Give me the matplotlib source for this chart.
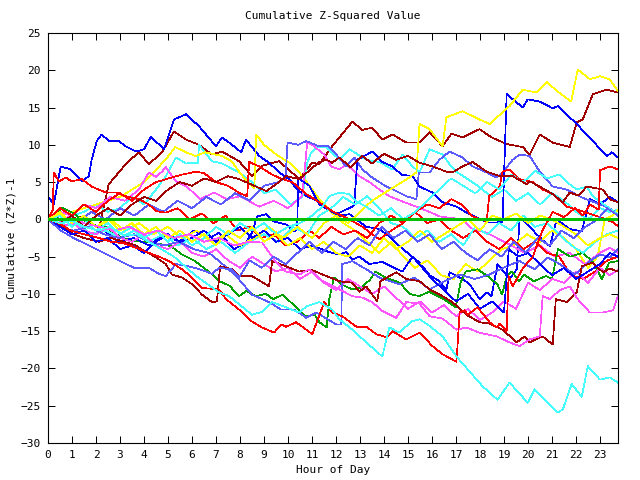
import matplotlib
matplotlib.use('Agg')
import matplotlib.pyplot as plt

# (hour of day, cumulative value), one list per trace
dark_red_top = [(0, 0), (0.53, 0.5), (0.99, -0.3), (1.49, 0.5), (2.12, -1.3), (2.53, 4.7), (3.29, 7.6),
                (3.79, 9), (4.2, 7.4), (4.75, 9), (5.25, 11.8), (5.75, 10.7), (6.29, 10), (6.83, 8.7),
                (7.25, 9.1), (7.96, 7.8), (8.5, 5.8), (8.92, 7.2), (9.63, 7.8), (10.47, 5.4), (11.01, 7.6),
                (11.3, 7.4), (11.84, 9.8), (12.68, 13.1), (13.1, 12), (13.51, 12.3), (13.93, 10.7),
                (14.35, 11.4), (14.93, 10.3), (15.48, 10.3), (15.9, 11.7), (16.44, 9.8), (16.81, 11.5),
                (17.27, 11), (17.98, 12.1), (18.48, 11), (19.11, 10.1), (19.78, 9.7), (20.07, 8.7),
                (20.49, 11.4), (21.03, 10.3), (21.74, 9.7), (22.03, 13), (22.28, 13.4), (22.7, 16.8),
                (23.29, 17.4), (23.75, 17)]

blue_early_high = [(0, 3.1), (0.24, 2), (0.53, 7.1), (0.95, 6.7), (1.41, 5.1), (1.7, 5.8), (1.82, 8),
                   (2.03, 10.5), (2.24, 11.4), (2.53, 10.5), (2.95, 10.5), (3.24, 9.8), (3.66, 9.1),
                   (4.0, 9.4), (4.29, 11.1), (4.83, 9.4), (5.25, 13.4), (5.75, 14.1), (6.29, 12.5),
                   (7.0, 9.8), (7.25, 11), (7.67, 10), (8.05, 9), (8.25, 10.7), (8.8, 8.5), (9.21, 7.6),
                   (9.63, 6.3), (10.05, 5.4), (10.38, 4), (10.76, 3.1), (11.3, 2.4), (11.59, 1.7),
                   (12.01, 0.4), (12.56, 0.7), (13.26, -1), (13.81, -1.3), (14.22, -2.3), (14.64, -3.6),
                   (15.06, -4.7), (15.48, -5.8), (15.9, -7.5), (16.31, -8.3), (16.6, -9.5), (16.73, -7.1),
                   (17.27, -8), (17.57, -8.7), (17.98, -10.7), (18.28, -9.8), (18.48, -10.3), (18.73, -6),
                   (19.23, -8), (19.53, -6.7), (19.65, 0.3), (19.78, 0), (20.36, -2), (20.91, -3.6),
                   (21.2, 0), (21.74, -1.3), (22.24, -1.6), (22.58, 2.7), (23.0, 2), (23.41, 3), (23.75, 2.3)]

blue_late_jump = [(0, 0), (0.53, -1), (1.07, -0.5), (1.7, -2), (2.33, -1.5), (2.95, -3), (3.58, -2.5),
                  (4.2, -3.5), (4.83, -2), (5.46, -3), (6.08, -1.5), (6.71, -2.5), (7.13, -1.8), (7.75, -4),
                  (8.25, -3.1), (8.5, -1.8), (8.71, 0.4), (9.1, 0.7), (9.42, -0.3), (9.92, -0.7),
                  (10.26, -1.6), (10.38, -1.3), (10.43, 5.5), (10.89, 4.5), (11.3, 2), (12.01, 0.7),
                  (12.68, 1.7), (12.76, 2), (12.89, 8), (13.51, 9.1), (13.93, 7.7), (14.35, 7.1),
                  (14.73, 6), (15.19, 5.8), (15.48, 4.4), (16.02, 3.6), (16.44, 2.3), (17.02, 1.7),
                  (17.44, 0.9), (18.28, -0.4), (18.73, -0.4), (18.94, -0.3), (19.11, 16.8), (19.78, 15),
                  (19.99, 16.1), (20.49, 15.8), (21.03, 14.9), (21.24, 15.2), (22.03, 12.8), (22.7, 10.5),
                  (23.29, 8.5), (23.5, 9), (23.75, 8.3)]

yellow_mid = [(0, 0), (1, 1), (2, 2), (3, 3), (4, 5), (4.9, 8), (5.3, 9.7), (5.75, 9), (6.15, 8.5),
              (6.55, 9), (7.25, 8.5), (7.65, 7.8), (8.05, 6), (8.35, 5), (8.6, 4.2), (8.67, 11.4), (9.0, 10),
              (9.51, 8.7), (10.05, 7.6), (10.47, 6.3), (10.9, 4.5), (11.3, 2.7), (11.8, 1), (12.3, -0.5),
              (12.8, -1.5), (13.3, -3), (13.8, -4.5), (14.3, -3), (14.8, -5), (15.3, -6.5), (15.8, -5.5),
              (16.4, -7.5), (16.9, -8), (17.4, -6), (17.9, -7), (18.4, -5.5), (18.9, -4), (19.4, -3.5),
              (19.95, -2), (20.5, -3), (21.0, -1.5), (21.5, -2.5), (22.0, -4), (22.5, -6.5), (22.9, -5),
              (23.2, 0), (23.5, 0.5), (23.75, 1.3)]

yellow_top = [(0, 0), (0.5, 1), (1, -0.5), (1.5, 0.5), (2, -1), (2.6, 0), (3.2, -1.5), (3.8, -0.5),
              (4.4, -2), (5, -1), (5.6, -2.5), (6.2, -1.5), (6.8, -3), (7.4, -2), (8, -3.5), (8.6, -2.5),
              (9.2, -1), (9.8, -2.5), (10.4, -1), (11, -2.5), (11.5, -0.5), (12, 0.5), (12.5, -0.5),
              (13, 1), (13.5, 2.5), (14, 3.5), (14.5, 4.5), (15.0, 5.5), (15.35, 6.3), (15.48, 12.8),
              (15.9, 12.1), (16.44, 9.8), (16.6, 13.7), (17.27, 14.5), (17.98, 13.4), (18.4, 12.8),
              (19.23, 15.2), (19.78, 17.4), (20.36, 17), (20.78, 18.4), (21.3, 17), (21.8, 15.8),
              (22.07, 20.1), (22.58, 18.8), (23.0, 19.2), (23.4, 18.8), (23.75, 17.2)]

cyan_low = [(0, 0), (0.5, -0.5), (1, -0.2), (1.5, -1), (2.12, -1.5), (2.6, -1), (3.2, -2.2), (3.7, -2),
            (4.2, -3), (5.25, -5), (6.17, -7.6), (7.13, -9.8), (7.55, -10.3), (8.5, -12.8), (8.92, -12.4),
            (9.34, -11.1), (9.92, -11.8), (10.47, -12.5), (10.76, -11.7), (11.3, -11.1), (11.84, -12.1),
            (12.14, -13.4), (12.68, -14.8), (13.26, -16.5), (13.93, -18.4), (14.22, -14.5), (14.64, -15.2),
            (15.14, -13.7), (15.48, -13.4), (15.9, -14.3), (16.44, -15.7), (17.02, -18.4), (17.48, -20.1),
            (18.11, -22.4), (18.73, -24.2), (19.23, -21.9), (19.99, -24.6), (20.28, -22.8), (21.24, -25.9),
            (21.45, -25.5), (21.82, -22.1), (22.24, -23.8), (22.49, -19.7), (23.0, -21.5), (23.41, -21.2),
            (23.75, -21.9)]

red_low = [(0, 0), (0.45, -0.5), (0.95, -1.5), (1.49, -2), (2.12, -2.5), (2.62, -3), (3.16, -3.2),
           (3.66, -3.8), (4.2, -4.5), (4.62, -5), (5.04, -5.6), (5.58, -6.7), (6.0, -7.8), (6.42, -9.2),
           (7.13, -9.4), (7.42, -10.7), (7.96, -12.1), (8.5, -13.7), (8.92, -14.5), (9.42, -15.2),
           (9.71, -14.1), (9.92, -14.4), (10.34, -13.8), (11.01, -15.4), (11.51, -11.1), (11.84, -12.5),
           (12.26, -13), (12.85, -14.4), (13.26, -14.4), (13.68, -15.4), (14.1, -15.8), (14.35, -15),
           (14.93, -16.1), (15.48, -15.2), (16.02, -17), (16.44, -18.1), (17.02, -19.1), (17.15, -12.5),
           (17.36, -12.2), (17.48, -12.8), (17.9, -11.8), (18.4, -13.8), (18.69, -14.5), (18.82, -14),
           (19.11, -15), (19.19, -7.6), (19.36, -9), (19.8, -6.5), (20.2, -5), (20.6, -1.5), (21.03, 1),
           (21.5, 0.3), (21.95, 1.5), (22.3, 0.5), (22.58, 2), (22.95, 1.3), (23.0, 6.6), (23.41, 7.1),
           (23.75, 6.7)]

dark_red_low = [(0, 0), (0.53, -1), (1.07, -2), (1.49, -2.5), (2.12, -3), (2.62, -2.5), (3.16, -3),
                (3.66, -3.5), (3.79, -3.8), (4.5, -5.1), (4.91, -6), (5.16, -7.4), (5.58, -7.8), (6.0, -8.7),
                (6.42, -10.1), (6.83, -11.1), (7.04, -11), (7.17, -6.3), (7.67, -6.7), (7.96, -7.6),
                (8.5, -7.6), (9.21, -9), (9.34, -5.6), (9.92, -6.3), (10.47, -7), (11.01, -6.8),
                (11.59, -7.6), (12.14, -8.3), (12.68, -8.5), (12.97, -9.7), (13.26, -9), (13.72, -11),
                (13.85, -8.3), (14.51, -7.1), (14.93, -8), (15.48, -8.3), (15.9, -9.4), (16.44, -10.3),
                (16.85, -11.1), (17.44, -12.8), (17.98, -13.8), (18.4, -14), (18.94, -14.8), (19.53, -16.5),
                (19.86, -15.7), (20.07, -16.5), (20.61, -15.7), (21.03, -16.8), (21.16, -10.7),
                (21.62, -11.1), (22.03, -9.8), (22.24, -6.3), (22.7, -5.8), (23.12, -7.1), (23.41, -6.6),
                (23.75, -7)]

green_low = [(0, 0), (0.25, -0.5), (0.55, 1.6), (0.96, 1), (1.42, 0), (1.98, -0.8), (2.38, -1),
             (2.99, -2.3), (3.5, -2.9), (4.31, -3.1), (5.12, -3.6), (5.58, -4.7), (6.13, -5.6),
             (6.85, -7.4), (7.15, -8.3), (7.56, -8.9), (7.96, -10.3), (8.27, -9.6), (8.67, -10.3),
             (9.08, -10), (9.38, -10.7), (9.79, -10.1), (10.3, -11.7), (10.7, -13), (11.11, -12.8),
             (11.31, -13.8), (11.61, -14.5), (11.72, -10.7), (11.92, -7.8), (12.22, -8.7), (12.68, -9.4),
             (13.09, -9.1), (13.44, -8), (13.64, -7), (14.05, -7.8), (14.66, -8.5), (15.06, -10),
             (15.47, -10.3), (15.88, -9.7), (16.49, -10.7), (16.99, -11.8), (17.19, -8.5), (17.4, -7),
             (17.9, -6.7), (18.31, -7.6), (18.72, -8.7), (18.92, -10.1), (19.12, -7.6), (19.33, -7),
             (19.63, -8.3), (19.83, -7.4), (20.24, -8.3), (20.75, -7.6), (21.0, -8), (21.25, -4),
             (21.76, -5), (22.27, -4.5), (22.68, -5.6), (23.08, -8), (23.38, -5.8), (23.75, -5.6)]

magenta_low = [(0, 0), (0.45, -0.5), (0.95, 0.5), (1.49, -0.5), (2.12, -1), (2.74, -1.5), (3.37, -1),
               (4.0, -2), (4.62, -1.5), (5.25, -2.5), (5.87, -2), (6.5, -3), (7.13, -2.5), (7.75, -3.5),
               (8.38, -3), (8.92, -3.1), (9.51, -5.8), (9.92, -7), (10.47, -7.4), (10.89, -6.7),
               (11.3, -8), (11.72, -8.7), (12.14, -9.4), (12.68, -10.3), (13.1, -10.5), (13.51, -11.1),
               (13.93, -12.3), (14.51, -13.2), (14.93, -11.1), (15.48, -11.3), (15.9, -13), (16.44, -13.3),
               (17.02, -14.8), (17.44, -14.5), (17.98, -15.2), (18.69, -15.7), (19.23, -16.5),
               (19.65, -17), (20.07, -16.1), (20.49, -15.7), (20.61, -10.3), (20.91, -10.7), (21.32, -9.5),
               (21.74, -9), (22.07, -10.7), (22.58, -12.5), (23.12, -12.5), (23.54, -12.2), (23.75, -10.3)]

magenta_mid = [(0, 0), (0.5, 1), (1, 0.5), (1.5, 2), (2, 1.5), (2.6, 3), (3.2, 2.5), (3.79, 4), (4.2, 6.3),
               (4.5, 5.7), (4.75, 6.4), (4.91, 7), (5.33, 5.1), (5.79, 4.4), (6.33, 2.7), (6.92, 3.6),
               (7.46, 2.7), (8.0, 3.1), (8.8, 1.7), (9.4, 2.5), (10.0, 1.5), (10.59, 3.1), (10.8, 10.3),
               (11.01, 10), (11.51, 8.7), (11.8, 7.1), (12.14, 6.7), (12.43, 7.4), (12.97, 5.8),
               (13.39, 5), (13.81, 4), (14.22, 3.1), (14.77, 2.4), (15.35, 1.7), (15.9, 1), (16.31, 0.4),
               (17.27, 0), (17.69, -1.3), (18.28, -1.8), (18.82, -2.7), (19.36, -3.6), (19.86, -4.5),
               (20.49, -3.5), (21.11, -5), (21.74, -4.5), (22.37, -6), (23.0, -4.5), (23.41, -3.8),
               (23.75, -4.5)]

magenta_drift = [(0, 0), (0.5, -1), (1, -0.5), (1.5, -1.5), (2, -2), (2.5, -1), (3, -2.5), (3.5, -3),
                 (4, -2), (4.5, -3.5), (5, -4), (5.5, -3), (6, -4.5), (6.5, -5), (7, -4), (7.5, -5.5),
                 (8, -6.5), (8.5, -5), (9, -6), (9.5, -7), (10, -6.5), (10.5, -8), (11, -7), (11.5, -8.5),
                 (12, -9.5), (12.5, -8), (13, -9), (13.5, -10), (14, -9), (14.5, -10.5), (15, -12),
                 (15.5, -11), (16, -12.5), (16.5, -11.5), (17, -13), (17.5, -12), (18, -13.5),
                 (18.5, -12.5), (19, -11), (19.5, -12), (20, -8.5), (20.5, -9.5), (21, -8), (21.5, -8.5),
                 (22, -7), (22.5, -8.5), (23, -6.5), (23.4, -7.5), (23.75, -6.8)]

cyan_high = [(0, 0), (0.5, -1), (1, 0.5), (1.5, 1), (2, 2), (2.5, 1), (3, 1.5), (3.5, 3), (4, 2), (4.5, 4),
             (4.91, 5.8), (5.33, 8.3), (5.75, 7.5), (6.25, 7.6), (6.29, 10), (6.83, 7.8), (7.25, 7.5),
             (7.96, 6.3), (8.5, 5), (9.0, 3.5), (9.5, 4), (10.1, 2), (10.6, 3), (10.8, 7.6), (10.97, 9),
             (11.22, 9.7), (11.59, 9.7), (12.14, 8), (12.56, 9.4), (13.26, 8), (13.81, 7.7), (14.35, 6.7),
             (14.77, 8.7), (15.19, 7.1), (15.48, 6.3), (15.9, 9.4), (16.44, 8.7), (16.73, 7.4), (17.0, 6.4),
             (17.3, 5.8), (17.9, 4.5), (18.5, 3), (19.0, 4), (19.5, 2.5), (20.0, 3.5), (20.5, 2),
             (21.0, 3.5), (21.5, 2.5), (22.0, 1), (22.5, 0), (23.0, 1.5), (23.4, 1), (23.75, 1.3)]

cyan_zero = [(0, 0), (0.6, -1), (1.2, -0.5), (1.8, -2), (2.4, -1.5), (3, -2.5), (3.6, -1.5), (4.2, -3),
             (4.8, -2), (5.4, -3.5), (6, -2.5), (6.6, -4), (7.2, -3), (7.8, -4.5), (8.4, -3), (9, -2),
             (9.6, -3), (10.2, -1), (10.8, -2), (11.3, 0.5), (11.8, 1.5), (12.3, 3), (12.8, 2), (13.3, 3.1),
             (13.8, 1.5), (14.3, -0.5), (14.8, -1), (15.3, -2.5), (15.8, -1.5), (16.3, -3), (16.8, -2),
             (17.3, -3.5), (17.8, -1), (18.3, -2), (18.8, -0.5), (19.3, -1.5), (19.8, 0.5), (20.3, -1),
             (20.8, -0.5), (21.3, -2), (21.8, -3.5), (22.3, -4.5), (22.8, -3), (23.3, -2), (23.75, -1.5)]

cyan_rise = [(0, 0), (0.5, 0.5), (1, -1), (1.5, 0), (2, -1.5), (2.5, -0.5), (3, -2), (3.5, -1), (4, -2.5),
             (4.5, -1.5), (5, -3), (5.5, -2), (6, -3.5), (6.5, -2.5), (7, -1), (7.5, -2), (8, -0.5),
             (8.5, -1.5), (9, -0.5), (9.5, -2), (10, -1), (10.5, -0.5), (11, 0.5), (11.43, 1.7),
             (11.72, 3.1), (12.14, 3.6), (12.56, 3.4), (12.85, 2.4), (13.26, 1.7), (13.8, 0.5), (14.3, 1.5),
             (14.8, 0), (15.3, 1), (15.8, 2.5), (16.3, 4), (16.8, 5.5), (17.3, 4.5), (17.8, 3.5), (18.3, 5),
             (18.8, 4), (19.3, 6), (19.8, 5), (20.3, 6.5), (20.8, 5.5), (21.3, 6), (21.62, 5), (22.03, 4),
             (22.45, 4.4), (22.7, 3.1), (23.29, 1.7), (23.75, 0.7)]

slate_jump = [(0, 0), (0.45, -1), (1.07, -1.5), (1.7, -1), (2.33, -2), (2.95, -2.5), (3.58, -2), (4.2, -3),
              (4.83, -3.5), (5.46, -3), (6.08, -4), (6.71, -4.5), (7.13, -5.6), (7.84, -7.6), (8.5, -10.1),
              (9.21, -11.1), (9.71, -12.1), (10.26, -12.1), (10.76, -13.2), (11.18, -12.5), (12.01, -14.1),
              (12.22, -14.1), (12.26, -6), (12.68, -5.6), (13.26, -6.7), (13.81, -7.8), (14.64, -8.7),
              (15.27, -7.8), (15.9, -9.4), (16.52, -8.3), (17.15, -7.4), (17.78, -8), (18.4, -7.4),
              (19.03, -6.4), (19.65, -5.6), (20.28, -6.7), (20.82, -5.1), (21.32, -6), (21.95, -7.4),
              (22.58, -5.6), (23.0, -4.7), (23.41, -5.1), (23.75, -4)]

slate_low = [(0, 0), (0.53, -1.5), (1.07, -2.5), (1.7, -3.5), (2.33, -4.5), (2.95, -5.5), (3.58, -6.5),
             (4.2, -6.5), (4.62, -7.3), (4.91, -7.6), (5.33, -6), (5.87, -6.3), (6.42, -6.8), (6.83, -7.3),
             (7.13, -6.5), (7.63, -6.7), (7.96, -7.8), (8.4, -5.5), (8.9, -6.5), (9.4, -5), (9.9, -6),
             (10.4, -4.5), (10.9, -3), (11.4, -4.5), (11.9, -3), (12.4, -4), (12.9, -2.5), (13.4, -3.5),
             (13.9, -1), (14.4, -2.5), (14.9, -1.5), (15.4, -3), (15.9, -2), (16.4, -4), (16.9, -3),
             (17.4, -4.5), (17.9, -5.5), (18.4, -4), (18.9, -5), (19.4, -3), (19.9, -4.5), (20.4, -2.5),
             (20.9, -3.5), (21.4, -1.5), (21.9, -2.5), (22.4, -1), (22.9, 0), (23.3, 1.5), (23.75, 0.5)]

slate_high = [(0, 0), (0.6, 0.5), (1.2, -0.5), (1.8, 1), (2.4, 0), (3.0, 1.5), (3.6, 0.5), (4.2, 2),
              (4.8, 1), (5.4, 2.5), (6.0, 1.5), (6.6, 3), (7.2, 2), (7.8, 3.5), (8.4, 2.5), (9.0, 4.5),
              (9.6, 5), (9.9, 5.6), (9.98, 10.3), (10.43, 10), (10.76, 10.5), (11.3, 9.8), (11.63, 9.9),
              (12.01, 8.7), (12.43, 7.1), (12.76, 8.3), (13.1, 6.7), (13.51, 5.6), (14.1, 4.4),
              (14.51, 3.8), (14.93, 3.1), (15.35, 2.7), (15.45, 6.3), (15.9, 6.3), (16.31, 8), (16.73, 9.1),
              (17.27, 8.3), (17.69, 7.1), (18.28, 6.3), (18.69, 5.6), (18.94, 6.3), (19.36, 8),
              (19.65, 8.7), (20.07, 8.5), (20.49, 6.4), (21.03, 4.4), (21.62, 4), (22.2, 3), (22.6, 2.5),
              (23.0, 2), (23.4, 1.5), (23.75, 0.7)]

red_early_high = [(0, 0), (0.2, 1.3), (0.24, 6.3), (0.45, 5.1), (0.74, 5.6), (0.99, 5.1), (1.41, 5.4),
                  (1.82, 4.4), (2.41, 3.6), (2.83, 3.6), (3.24, 3.1), (3.79, 2.7), (4.2, 2), (4.5, 1.1),
                  (4.91, 0.9), (5.4, 1.5), (5.9, 0), (6.4, 0.8), (6.9, -0.5), (7.4, 0.5), (7.9, -1.5),
                  (8.4, -1), (8.9, -2.5), (9.4, -2), (9.9, -3.5), (10.4, -3), (10.9, -1.5), (11.3, -2.5),
                  (11.8, -1), (12.3, -2), (12.8, -1.5), (13.3, -2.5), (13.8, -0.5), (14.3, 0.5),
                  (14.8, -0.5), (15.3, 1), (15.8, -0.5), (16.3, 0), (16.8, -1.5), (17.3, -2.5),
                  (17.8, -1.5), (18.3, -3), (18.8, -4), (19.3, -2.5), (19.8, -4), (20.3, -3), (20.8, -4.5),
                  (21.3, -5), (21.8, -7.5), (22.3, -8), (22.8, -7), (23.3, -5.5), (23.75, -5)]

red_mid = [(0, 0), (0.5, 1.5), (1, 0.5), (1.5, 2), (2, 1), (2.5, 2.5), (3, 3.5), (3.5, 2.5), (4, 4),
           (4.5, 5), (5.04, 5.5), (5.58, 6), (6.17, 6.4), (6.5, 6.2), (7.0, 5), (7.5, 4.5), (8.0, 3.5),
           (8.3, 3.1), (8.38, 7.7), (8.8, 7.1), (9.34, 6), (9.76, 5.4), (10.18, 5), (10.76, 3.4),
           (11.3, 2.3), (11.84, 1.1), (12.56, 0), (13.1, -1), (13.81, -2.7), (14.3, -1.5), (14.8, -0.5),
           (15.3, 1), (15.8, 2), (16.3, 1.5), (16.81, 2.7), (17.23, 2), (17.69, 0.4), (18.28, -0.3),
           (18.38, 3.1), (18.82, 4.4), (18.94, 6.4), (19.23, 6.7), (19.65, 5.4), (20.2, 5), (20.61, 4),
           (21.03, 3.4), (21.62, 1.7), (22.03, 1.3), (22.45, 0.9), (23.0, 0.3), (23.54, -0.4), (23.75, -0.9)]

dark_red_mid = [(0, 0), (0.5, -0.5), (1, 0.5), (1.5, -1), (2, 0.5), (2.5, 1.5), (3, 0.5), (3.5, 2), (4, 3),
                (4.5, 2.5), (5, 4), (5.5, 5), (6, 4.5), (6.5, 5.5), (7, 5), (7.5, 5.8), (7.96, 5.4),
                (8.67, 4.4), (9.1, 3.8), (9.5, 4.7), (9.92, 5.8), (10.47, 5.4), (11.3, 7.7), (11.6, 8),
                (11.84, 7.6), (12.14, 8.3), (12.6, 7), (13.1, 8.5), (13.5, 7.5), (14.0, 8.8), (14.5, 8),
                (15.0, 8.5), (15.48, 7.6), (16.02, 7.1), (16.6, 6.4), (16.85, 6.3), (17.27, 7.1),
                (17.69, 7.7), (18.28, 6.4), (18.82, 5.8), (19.36, 5.8), (19.95, 4.7), (20.07, 5.1),
                (20.49, 4.4), (21.03, 3.4), (21.45, 2.3), (21.74, 3.6), (22.1, 3.2), (22.45, 4.4),
                (23.12, 4), (23.41, 2.7), (23.75, 2.3)]

yellow_low = [(0, 0), (0.5, 0.8), (1, -0.5), (1.5, 0.5), (2, -1), (2.5, 0), (3, -1.5), (3.5, -0.5), (4, -2),
              (4.5, -1), (5, -2.5), (5.5, -1.5), (6, -3), (6.5, -2), (7, -3.5), (7.5, -1.5), (8, -2.5),
              (8.5, -1), (9, -3), (9.5, -2), (10, -3.5), (10.5, -2.5), (11, -4), (11.5, -3), (12, -4.5),
              (12.5, -5), (13, -3.5), (13.5, -4.5), (14, -2.5), (14.5, -4), (15, -3), (15.5, -1.5),
              (16, -3), (16.5, -2), (17, -1), (17.5, 0), (18, -1.5), (18.5, 0.5), (19, 0), (19.5, 0.8),
              (20, -0.5), (20.5, 0.5), (21, 0), (21.5, -1), (22, -2), (22.5, -3.5), (23, -2.5),
              (23.4, -2), (23.75, -2.5)]

blue_low = [(0, 0), (0.5, -1), (1, -2), (1.5, -1.5), (2, -3), (2.5, -2.5), (3, -4), (3.5, -3.5), (4, -4.5),
            (4.5, -3), (5, -2), (5.5, -3), (6, -2.5), (6.5, -1.5), (7, -3), (7.5, -2), (8, -1), (8.5, -2.5),
            (9, -1.5), (9.5, -3), (10, -2.5), (10.5, -4), (11, -3.5), (11.72, -4.4), (12.14, -4.7),
            (12.43, -4.4), (12.68, -5.4), (12.97, -5), (13.39, -6), (13.93, -5.7), (14.35, -6.4),
            (14.77, -7), (15.19, -5), (15.6, -6.5), (16.0, -8), (16.5, -9.5), (17.0, -11), (17.5, -10),
            (18.0, -12), (18.5, -11), (19.0, -12.5), (19.2, -4), (19.6, -5), (20.0, -4.5), (20.5, -6),
            (21.0, -7.5), (21.5, -6.5), (22.0, -8), (22.5, -7), (23.0, -6), (23.4, -4.5), (23.75, -5)]

hour_ticks = list(range(0, 24))
value_ticks = list(range(-30, 30, 5))

red = '#ff0000'
dark_red = '#a00000'
green = '#00a000'
blue = '#0000ff'
slate = '#5a5aff'
magenta = '#ff55ff'
cyan = '#45ffff'
yellow = '#ffff00'

traces = [
    (dark_red_top, dark_red), (blue_early_high, blue), (cyan_high, cyan), (yellow_mid, yellow),
    (magenta_mid, magenta), (slate_high, slate), (red_early_high, red), (green_low, green),
    (blue_late_jump, blue), (cyan_zero, cyan), (yellow_top, yellow), (magenta_drift, magenta),
    (slate_jump, slate), (red_mid, red), (dark_red_low, dark_red), (blue_low, blue),
    (cyan_rise, cyan), (yellow_low, yellow), (magenta_low, magenta), (slate_low, slate),
    (red_low, red), (dark_red_mid, dark_red), (cyan_low, cyan),
]

plt.rcParams['font.family'] = 'DejaVu Sans Mono'
plt.rcParams['font.size'] = 8

fig = plt.figure(figsize=(6.4, 4.8), dpi=100)
ax = fig.add_axes([48 / 640, 1 - 443 / 480, 570 / 640, 410 / 480])

# thin, aliased lines like the original png terminal
for pts, col in traces:
    hrs = [p[0] for p in pts]
    vals = [p[1] for p in pts]
    ax.plot(hrs, vals, color=col, lw=0.5, antialiased=False)

# zero reference line on top of the traces
ax.axhline(0, color='#00c000', lw=0.9, antialiased=False, zorder=5)

ax.set_xlim(0, 23.75)
ax.set_ylim(-30, 25)
ax.set_xticks(hour_ticks)
ax.set_yticks(value_ticks)
ax.tick_params(direction='in', length=5, width=0.72, top=True, right=True, labelsize=8, pad=5)
for s in ax.spines.values():
    s.set_linewidth(0.8)

fig.text(333 / 640, 1 - 16 / 480, 'Cumulative Z-Squared Value', ha='center', va='center', fontsize=8)
fig.text(333 / 640, 1 - 470 / 480, 'Hour of Day', ha='center', va='center', fontsize=8)
fig.text(12 / 640, 1 - 238 / 480, 'Cumulative (Z*Z)-1', ha='center', va='center', rotation=90, fontsize=8)

fig.savefig('out.png', dpi=100)
